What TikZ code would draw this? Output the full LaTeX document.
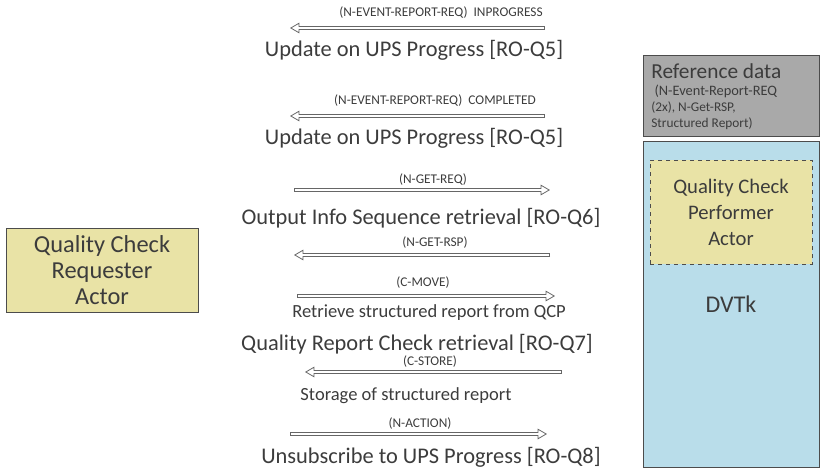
\documentclass[tikz,border=0pt]{standalone}
\usepackage{fontspec}
\setmainfont{Carlito}
\usetikzlibrary{arrows.meta,positioning}
\definecolor{actorfill}{HTML}{E9E3A6}
\definecolor{reffill}{HTML}{A9A9A9}
\definecolor{dvtkfill}{HTML}{B9DDEA}
\definecolor{inkgray}{HTML}{3C3C3C}
\tikzset{
  msg/.style={draw=black!60, line width=3pt,
    -{Triangle[open,length=7pt,width=8pt,line width=0.6pt]},
    postaction={draw=white, line width=1.2pt, -, shorten >=6pt, shorten <=0.6pt}},
  msglabel/.style={font=\fontsize{10}{11}\selectfont, text=inkgray, inner sep=0pt},
  steptext/.style={font=\fontsize{16.8}{18}\selectfont, text=inkgray, inner sep=0pt},
  subtext/.style={font=\fontsize{13.9}{15}\selectfont, text=inkgray, inner sep=0pt},
  actorbox/.style={draw=black!70, fill=actorfill, align=center, text=inkgray}
}
\begin{document}
\begin{tikzpicture}[x=0.75pt,y=-0.75pt]
\useasboundingbox (0,0) rectangle (823,474);

% actors
\node[actorbox, minimum width=144pt, minimum height=63pt,
  font=\fontsize{18.3}{19.5}\selectfont] (qcr) at (102,270)
  {Quality Check\\Requester\\Actor};
\node[draw=black!70, fill=reffill, minimum width=132pt, minimum height=60.75pt] (refdata) at (731,95.5) {};
\node[anchor=north west, align=left, text=inkgray, inner sep=0pt] (reftext) at (651,63)
  {{\fontsize{16}{17}\selectfont Reference data}\\[1pt]
   \fontsize{10.8}{10.5}\selectfont \ (N-Event-Report-REQ\\(2x), N-Get-RSP,\\Structured Report)};
\node[draw=black!70, fill=dvtkfill, minimum width=132pt, minimum height=244.5pt,
  text=inkgray, font=\fontsize{18}{19}\selectfont] (dvtk) at (731,304) {DVTk};
\node[actorbox, dashed, minimum width=121.5pt, minimum height=78pt,
  font=\fontsize{15.5}{19.5}\selectfont] (qcp) at (731,212)
  {Quality Check\\Performer\\Actor};

% message coordinates
\coordinate (m1a) at (545,28);  \coordinate (m1b) at (290,28);
\coordinate (m2a) at (545,116); \coordinate (m2b) at (290,116);
\coordinate (m3a) at (294,190); \coordinate (m3b) at (550,190);
\coordinate (m4a) at (550,255); \coordinate (m4b) at (294,255);
\coordinate (m5a) at (297,296); \coordinate (m5b) at (555,296);
\coordinate (m6a) at (562,372); \coordinate (m6b) at (305,372);
\coordinate (m7a) at (290,434); \coordinate (m7b) at (547,434);

% messages
\node[msglabel] (l1) at (441,13) {(N-EVENT-REPORT-REQ)\ \ INPROGRESS};
\draw[msg] (m1a) -- (m1b);
\node[steptext] (t1) at (414,50) {Update on UPS Progress [RO-Q5]};

\node[msglabel] (l2) at (435,101) {(N-EVENT-REPORT-REQ)\ \ COMPLETED};
\draw[msg] (m2a) -- (m2b);
\node[steptext] (t2) at (414,138) {Update on UPS Progress [RO-Q5]};

\node[msglabel] (l3) at (433,180) {(N-GET-REQ)};
\draw[msg] (m3a) -- (m3b);
\node[steptext] (t3) at (421,218) {Output Info Sequence retrieval [RO-Q6]};

\node[msglabel] (l4) at (435,243) {(N-GET-RSP)};
\draw[msg] (m4a) -- (m4b);

\node[msglabel] (l5) at (423,283) {(C-MOVE)};
\draw[msg] (m5a) -- (m5b);
\node[subtext] (t5) at (429,313) {Retrieve structured report from QCP};
\node[steptext] (t6) at (417,344) {Quality Report Check retrieval [RO-Q7]};

\node[msglabel] (l6) at (430,362) {(C-STORE)};
\draw[msg] (m6a) -- (m6b);
\node[subtext] (t7) at (406,396) {Storage of structured report};

\node[msglabel] (l7) at (420,424) {(N-ACTION)};
\draw[msg] (m7a) -- (m7b);
\node[steptext] (t8) at (431,457) {Unsubscribe to UPS Progress [RO-Q8]};
\end{tikzpicture}
\end{document}
